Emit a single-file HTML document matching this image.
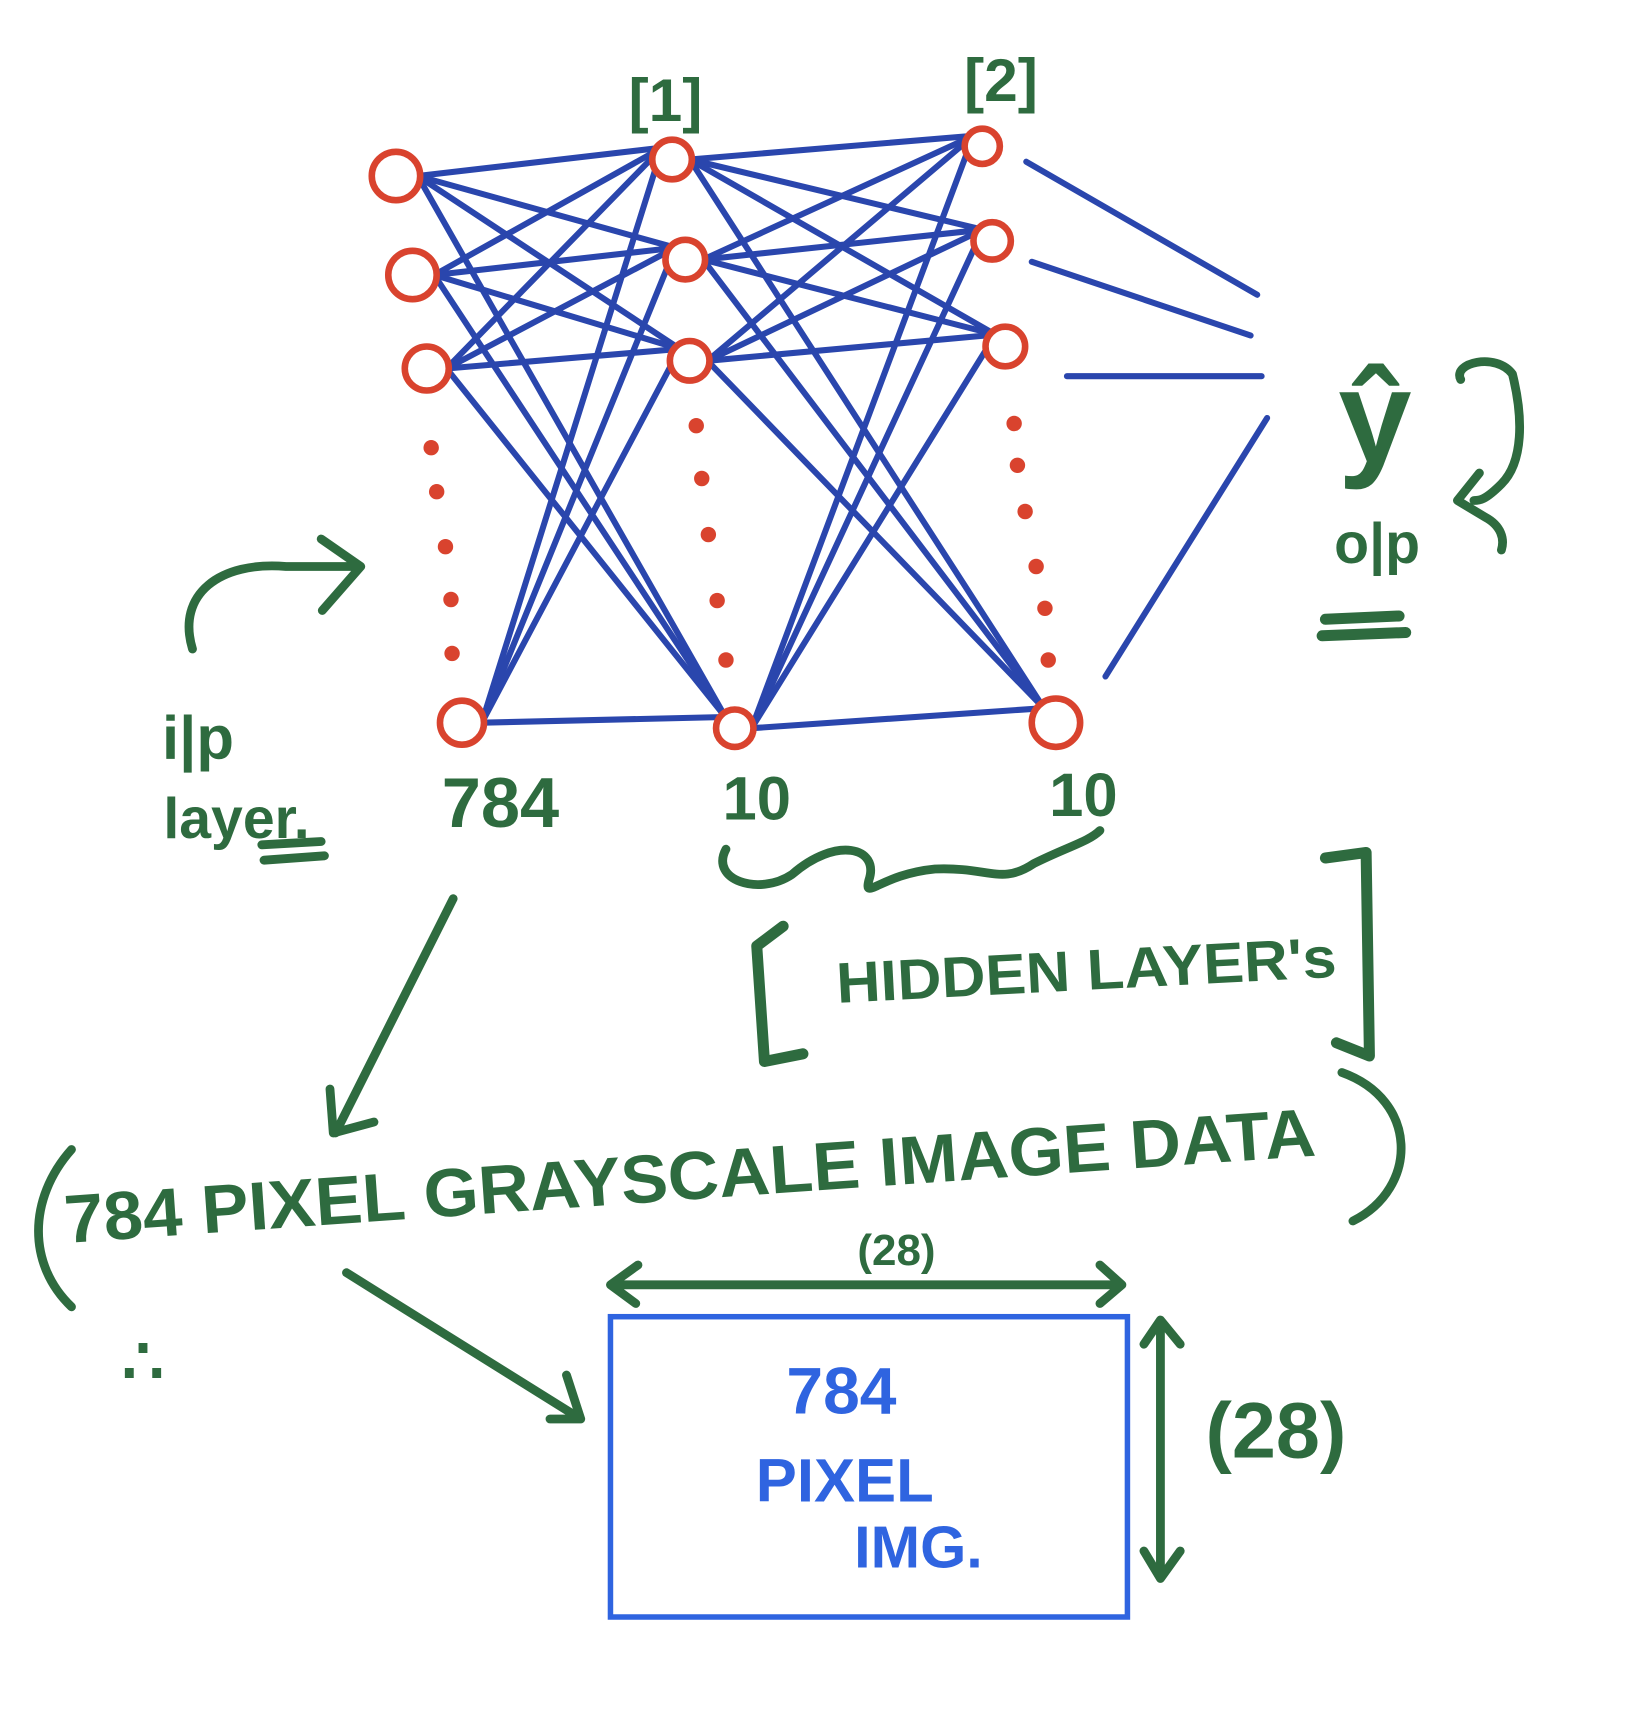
<!DOCTYPE html>
<html><head><meta charset="utf-8"><style>
html,body{margin:0;padding:0;background:#fff}
svg{display:block}
.g{fill:#2e6b3f;font-family:"Liberation Sans",sans-serif;font-weight:bold}
.b{fill:#2f64e0;font-family:"Liberation Sans",sans-serif;font-weight:bold}
</style></head><body>
<svg id="s" width="1640" height="1727" viewBox="0 0 1491 1570" preserveAspectRatio="none" xmlns="http://www.w3.org/2000/svg">
<g id="edges" stroke="#2a46ad" stroke-width="5.5" stroke-linecap="round" fill="none"></g>
<g id="nodes" stroke="#d9432e" stroke-width="6" fill="#fff"></g>
<g id="dots" fill="#d9432e"></g>
<g stroke="#2a46ad" stroke-width="5.5" stroke-linecap="round">
<line x1="933" y1="147" x2="1143" y2="268"/><line x1="938" y1="238" x2="1137" y2="305"/>
<line x1="970" y1="342" x2="1147" y2="342"/><line x1="1005" y1="615" x2="1152" y2="380"/>
</g>
<g stroke="#2e6b3f" stroke-width="8" stroke-linecap="round" stroke-linejoin="round" fill="none">
<path d="M175 590 C160 540 200 510 260 515 L325 515 M292 490 L328 515 L293 555"/>
<path d="M238 768 L292 765 M240 782 L295 778"/>
<path d="M660 772 C645 800 690 815 720 795 C760 760 800 770 790 800 C785 820 800 795 850 790 C900 788 910 805 940 785 C970 770 990 765 1000 755"/>
<path stroke-width="10" d="M712 842 L688 860 L695 965 L730 958"/>
<path stroke-width="10" d="M1205 780 L1242 775 L1245 960 L1215 948"/>
<path d="M412 817 L305 1030 M300 990 L303 1030 L340 1020"/>
<path d="M65 1045 C25 1090 25 1150 65 1188"/>
<path d="M1220 975 C1290 1000 1290 1080 1230 1110"/>
<path d="M315 1157 L528 1290 M500 1290 L528 1290 L515 1250"/>
<path d="M555 1168 L1020 1168 M580 1150 L555 1168 L578 1185 M1000 1150 L1020 1168 L1000 1185"/>
<path d="M1055 1200 L1055 1435 M1040 1222 L1055 1200 L1073 1222 M1040 1410 L1055 1435 L1073 1410"/>
<path d="M1328 345 C1320 330 1360 320 1375 340 C1385 380 1385 420 1365 440 C1350 455 1345 455 1340 455 M1345 430 L1325 455 L1350 470 C1365 478 1368 490 1365 500"/>
<path stroke-width="10" d="M1205 563 L1272 560 M1202 578 L1278 575"/>
</g>
<g>
<text class="g" x="605" y="110" font-size="55" text-anchor="middle">[1]</text>
<text class="g" x="910" y="92" font-size="55" text-anchor="middle">[2]</text>
<text class="g" x="1250" y="420" font-size="120" text-anchor="middle" font-weight="normal">ŷ</text>
<text class="g" x="1252" y="512" font-size="52" text-anchor="middle">o|p</text>
<text class="g" x="180" y="690" font-size="56" text-anchor="middle">i|p</text>
<text class="g" x="215" y="762" font-size="52" text-anchor="middle">layer.</text>
<text class="g" x="455" y="752" font-size="64" text-anchor="middle">784</text>
<text class="g" x="688" y="745" font-size="56" text-anchor="middle">10</text>
<text class="g" x="985" y="742" font-size="56" text-anchor="middle">10</text>
<text class="g" x="760" y="900" font-size="52" textLength="455" lengthAdjust="spacingAndGlyphs" transform="rotate(-3 985 880)">HIDDEN LAYER's</text>
<text class="g" x="60" y="1130" font-size="62" textLength="1140" lengthAdjust="spacingAndGlyphs" transform="rotate(-4 60 1130)">784 PIXEL GRAYSCALE IMAGE DATA</text>
<text class="g" x="130" y="1258" font-size="60" text-anchor="middle">∴</text>
<text class="g" x="815" y="1150" font-size="40" text-anchor="middle" font-weight="normal">(28)</text>
<text class="g" x="1160" y="1325" font-size="72" text-anchor="middle" font-weight="normal">(28)</text>
</g>
<rect x="555" y="1197" width="470" height="273" fill="none" stroke="#2f64e0" stroke-width="5"/>
<text class="b" x="765" y="1285" font-size="60" text-anchor="middle">784</text>
<text class="b" x="768" y="1365" font-size="56" text-anchor="middle">PIXEL</text>
<text class="b" x="835" y="1425" font-size="54" text-anchor="middle">IMG.</text>
</svg>
<script>
const inputNodes=[[360,160,22],[375,250,22],[388,335,20],[420,657,20]];
const h1Nodes=[[611,145,18],[623,236,18],[627,328,18],[668,662,17]];
const h2Nodes=[[893,133,16],[902,219,17],[914,315,18],[960,657,22]];
const dotX1=[392,397,405,410,411],dotY1=[407,447,497,545,594];
const dotX2=[633,638,644,652,660],dotY2=[387,435,486,546,600];
const dotX3=[922,925,932,942,950,953],dotY3=[385,423,465,515,553,600];
const NS="http://www.w3.org/2000/svg";
const E=document.getElementById('edges'),N=document.getElementById('nodes'),D=document.getElementById('dots');
function connect(a,b){for(const p of a)for(const q of b){
const l=document.createElementNS(NS,'line');
l.setAttribute('x1',p[0]+p[2]*0.9);l.setAttribute('y1',p[1]);
l.setAttribute('x2',q[0]-q[2]*0.5);l.setAttribute('y2',q[1]-q[2]*0.6);


E.appendChild(l);}}
connect(inputNodes,h1Nodes);connect(h1Nodes,h2Nodes);
for(const n of [...inputNodes,...h1Nodes,...h2Nodes]){
const c=document.createElementNS(NS,'circle');
c.setAttribute('cx',n[0]);c.setAttribute('cy',n[1]);c.setAttribute('r',n[2]);


N.appendChild(c);}
function dots(xs,ys){xs.forEach((x,i)=>{
const c=document.createElementNS(NS,'circle');
c.setAttribute('cx',x);c.setAttribute('cy',ys[i]);c.setAttribute('r',7);


D.appendChild(c);});}
dots(dotX1,dotY1);dots(dotX2,dotY2);dots(dotX3,dotY3);
</script>
</body></html>
